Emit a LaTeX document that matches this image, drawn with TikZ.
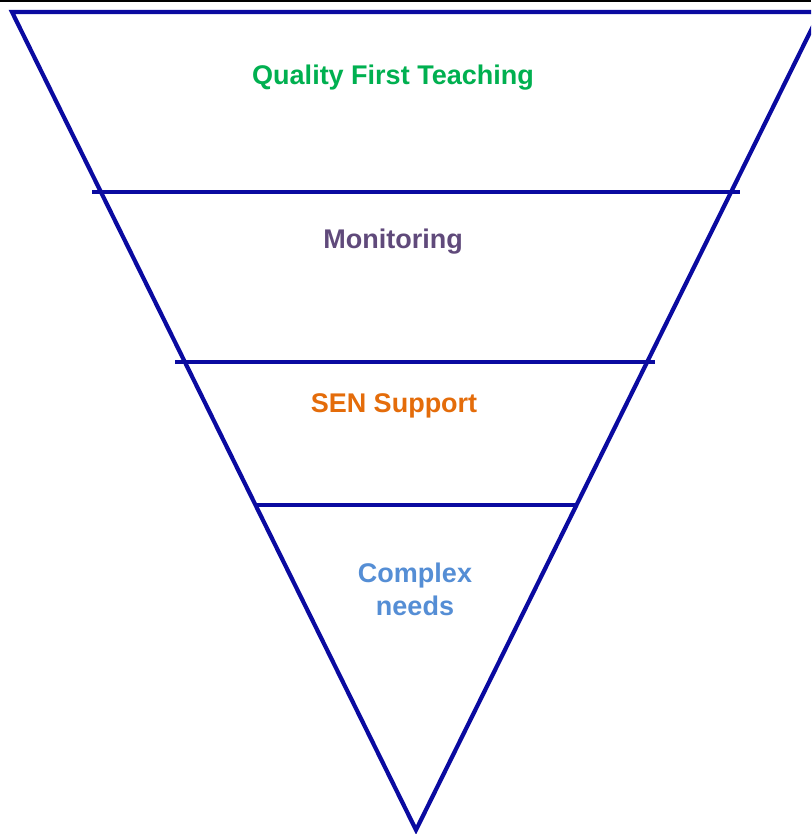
\documentclass[tikz,border=0pt]{standalone}
\usepackage{fontspec}
\setmainfont{Liberation Sans}
\definecolor{funnel}{RGB}{10,10,160}
\definecolor{cgreen}{RGB}{0,176,80}
\definecolor{cpurple}{RGB}{96,74,123}
\definecolor{corange}{RGB}{228,108,10}
\definecolor{cblue}{RGB}{85,142,213}
\tikzset{
  edge/.style={draw=funnel, line width=4.2pt, line join=miter},
  tier/.style={edge, line cap=butt},
  lbl/.style={font=\fontsize{27}{33}\selectfont\bfseries, align=center, inner sep=0pt}
}
\begin{document}
\begin{tikzpicture}[x=1pt,y=-1pt]
\useasboundingbox (0,0) rectangle (811,834);
\fill[white] (0,0) rectangle (811,834);
\begin{scope}
\clip (0,0) rectangle (811,834);
\coordinate (tl) at (12,12);
\coordinate (tr) at (820,12);
\coordinate (ap) at (416,830);
\draw[edge] (tl) -- (tr) -- (ap) -- cycle;
\coordinate (a1) at (92,192);
\coordinate (b1) at (740,192);
\coordinate (a2) at (175,362);
\coordinate (b2) at (655,362);
\coordinate (a3) at (255,505);
\coordinate (b3) at (577,505);
\draw[tier] (a1) -- (b1);
\draw[tier] (a2) -- (b2);
\draw[tier] (a3) -- (b3);
\fill[black] (0,0) rectangle (811,2.5);
\end{scope}
\node[lbl, text=cgreen] (q) at (393,78) {Quality First Teaching};
\node[lbl, text=cpurple] (m) at (393,242) {Monitoring};
\node[lbl, text=corange] (s) at (394,406) {SEN Support};
\node[lbl, text=cblue] (c) at (415,589) {Complex\\needs};
\end{tikzpicture}
\end{document}
